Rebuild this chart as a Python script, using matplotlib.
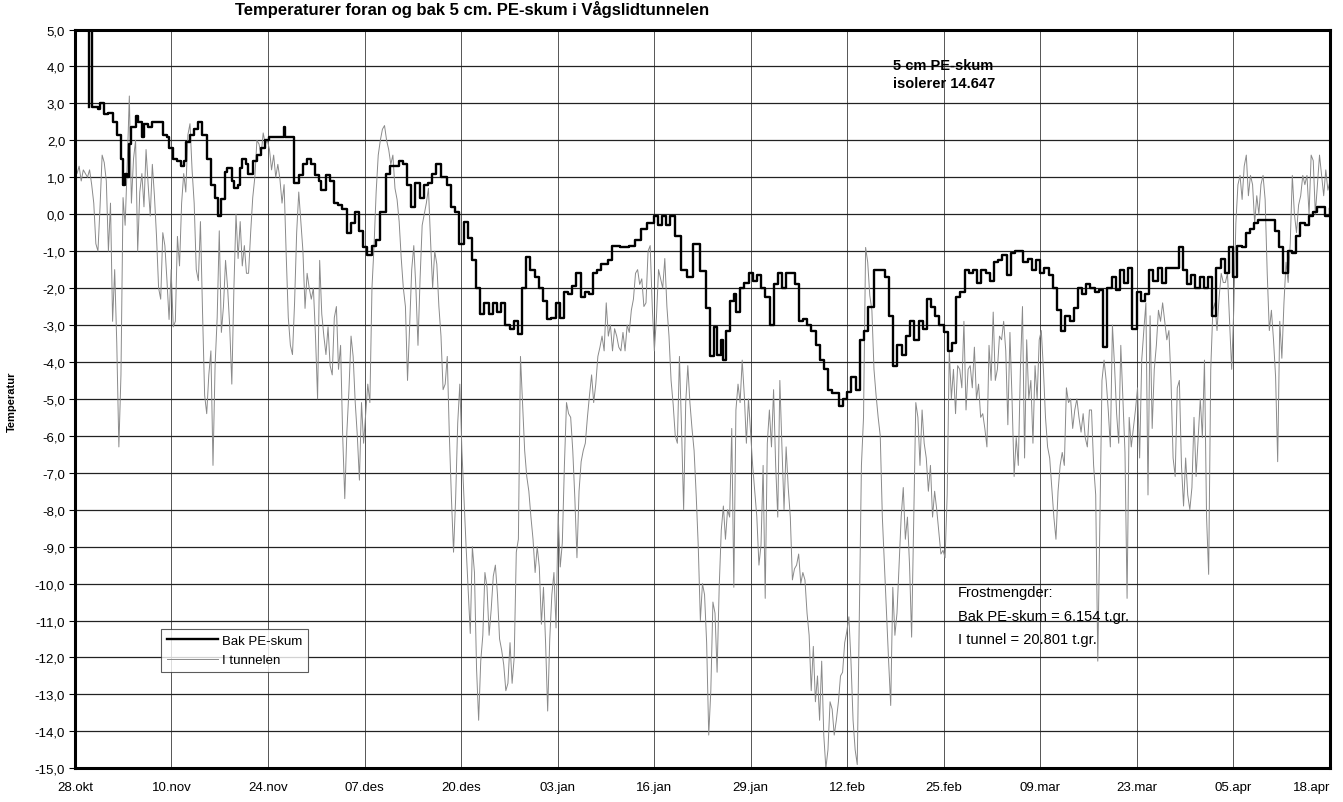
import numpy as np
import matplotlib.pyplot as plt
from matplotlib.ticker import FuncFormatter

# x in days from 28.okt; labels every 13.23 days (Excel category axis)
tick_labels = ["28.okt", "10.nov", "24.nov", "07.des", "20.des", "03.jan", "16.jan",
               "29.jan", "12.feb", "25.feb", "09.mar", "23.mar", "05.apr", "18.apr"]
season_days = 172

# "I tunnelen": regular readings across the whole season
i_tunnel = [
    1.2, 1.1, 1.3, 0.9, 1.2, 1.1, 1.0, 1.2, 0.8, 0.3,
    -0.8, -1.0, 0.2, 1.6, 1.4, 0.9, -1.0, 0.3, -2.9, -1.5,
    -3.5, -6.3, -4.35, 0.45, -0.3, 1.35, 3.2, 0.3, 1.5, 2.0,
    -1.0, 0.6, 1.1, 0.2, 1.75, 0.8, -0.05, 1.35, 0.5, -0.6,
    -2.0, -2.3, -0.5, -0.85, -1.8, -2.85, -1.5, -3.05, -2.9, -0.6,
    -1.4, 0.3, 1.1, 0.6, 2.15, 2.45, 1.2, 0.3, -1.5, -1.8,
    -0.2, -2.65, -4.9, -5.4, -4.35, -3.7, -6.8, -4.1, -2.8, -0.45,
    -3.2, -2.5, -1.25, -2.0, -3.05, -4.6, -2.0, 0.0, -1.2, -0.2,
    -1.4, -0.85, -1.6, -1.6, -0.5, 0.45, 1.0, 2.0, 1.9, 1.6,
    2.2, 1.9, 2.0, 1.75, 1.2, 1.6, 1.0, 1.35, 0.95, 0.3,
    0.8, -1.1, -2.8, -3.55, -3.8, -2.4, -0.5, 0.6, -0.2, -1.0,
    -2.55, -1.6, -2.0, -2.3, -2.0, -3.3, -5.0, -1.25, -2.7, -3.3,
    -3.8, -3.05, -4.1, -4.35, -2.8, -2.5, -4.2, -3.55, -6.0, -7.7,
    -5.9, -4.75, -3.3, -3.85, -5.1, -6.0, -7.2, -5.1, -6.2, -5.4,
    -4.6, -5.1, -2.0, -0.85, 0.6, 1.6, 2.0, 2.3, 2.4, 2.0,
    1.75, 1.35, 1.6, 0.7, 0.4, -0.2, -1.2, -2.0, -2.5, -4.5,
    -3.05, -1.5, -0.85, -2.0, -3.55, -1.75, -0.3, 0.0, 0.3, 0.7,
    -0.7, -2.0, -1.0, -1.35, -2.5, -3.3, -4.75, -4.6, -3.85, -6.0,
    -7.7, -9.15, -7.7, -5.65, -4.6, -6.4, -7.7, -9.0, -10.2, -11.35,
    -9.0, -9.7, -12.3, -13.7, -12.1, -11.4, -9.7, -10.1, -11.4, -10.7,
    -9.8, -9.5, -10.3, -11.5, -11.8, -12.2, -12.9, -12.7, -11.6, -12.7,
    -12.0, -9.15, -8.8, -3.85, -5.15, -6.4, -7.1, -7.5, -8.2, -8.8,
    -9.7, -9.0, -9.55, -11.1, -10.1, -11.6, -13.45, -11.5, -10.3, -9.7,
    -11.2, -8.1, -9.55, -8.9, -6.8, -5.1, -5.4, -5.5, -6.4, -7.7,
    -9.3, -7.5, -6.7, -6.4, -6.2, -5.5, -4.9, -4.35, -5.1, -4.6,
    -3.85, -3.6, -3.3, -3.7, -2.4, -3.3, -3.0, -3.7, -3.1, -3.3,
    -3.6, -3.7, -3.2, -3.7, -3.0, -3.2, -2.6, -2.3, -1.6, -1.5,
    -1.9, -1.75, -2.5, -2.4, -1.0, -0.85, -2.5, -3.7, -2.8, -1.5,
    -1.75, -2.0, -1.2, -2.5, -3.3, -4.5, -5.15, -6.0, -6.2, -3.85,
    -5.8, -8.0, -5.1, -4.1, -5.1, -5.8, -6.4, -7.6, -9.0, -11.0,
    -10.0, -10.3, -11.6, -14.1, -12.9, -10.5, -10.8, -12.4, -10.1, -8.55,
    -7.9, -8.8, -8.0, -8.2, -5.8, -10.1, -5.3, -4.6, -5.1, -3.95,
    -4.9, -6.2, -5.0, -5.9, -6.8, -7.5, -8.2, -9.5, -8.95, -6.8,
    -10.4, -6.2, -5.3, -6.3, -4.75, -6.8, -8.2, -4.5, -6.3, -8.0,
    -6.3, -7.4, -8.2, -9.9, -9.6, -9.5, -9.2, -10.0, -9.7, -9.9,
    -10.8, -11.4, -12.9, -11.7, -13.2, -12.5, -13.7, -12.1, -14.1, -15.0,
    -14.5, -13.2, -13.4, -14.1, -13.7, -13.2, -12.5, -12.4, -11.6, -11.3,
    -10.9, -12.1, -13.7, -14.5, -14.9, -10.8, -6.8, -5.5, -0.9, -1.3,
    -2.2, -2.6, -4.2, -4.9, -5.5, -6.0, -8.2, -9.5, -10.8, -12.1,
    -13.3, -10.1, -11.4, -10.8, -9.5, -8.2, -7.4, -8.8, -8.2, -9.5,
    -11.45, -8.2, -5.1, -5.5, -6.8, -5.3, -6.2, -6.6, -7.5, -6.8,
    -8.2, -7.5, -8.0, -8.6, -9.2, -9.1, -9.3, -7.6, -3.7, -5.0,
    -4.2, -5.4, -4.1, -4.2, -4.7, -2.9, -5.3, -4.2, -4.1, -4.7,
    -3.6, -5.0, -4.6, -5.5, -5.4, -5.8, -6.3, -3.55, -4.5, -2.65,
    -4.5, -4.2, -3.3, -3.4, -2.9, -3.7, -5.7, -3.2, -5.0, -7.1,
    -6.05, -6.8, -4.2, -2.5, -6.6, -3.4, -5.0, -4.5, -6.2, -4.1,
    -5.0, -3.4, -3.15, -4.2, -5.5, -6.3, -6.6, -7.4, -8.2, -8.8,
    -7.5, -6.8, -6.45, -6.8, -4.7, -5.1, -5.0, -5.8, -5.3, -5.0,
    -5.5, -5.9, -5.4, -6.05, -6.3, -5.3, -5.3, -6.8, -7.6, -12.1,
    -8.2, -4.5, -3.95, -4.5, -5.3, -6.3, -3.0, -4.1, -5.4, -6.2,
    -3.55, -5.0, -6.45, -10.4, -5.5, -6.3, -5.8, -5.3, -4.7, -6.6,
    -3.95, -3.15, -2.4, -7.6, -2.75, -5.8, -4.2, -3.55, -2.6, -2.9,
    -2.4, -2.9, -3.4, -3.15, -4.5, -6.6, -7.1, -4.7, -4.5, -6.8,
    -7.9, -6.6, -7.6, -8.0, -7.4, -5.5, -7.1, -6.05, -5.0, -6.05,
    -3.95, -8.2, -9.75, -4.2, -2.6, -2.4, -3.15, -2.25, -1.6, -1.85,
    -1.85, -1.6, -2.9, -4.2, -2.6, -0.25, 0.8, 1.05, 0.4, 1.3,
    1.6, 0.5, 1.05, 0.8, -0.25, 0.5, 0.0, 0.8, 1.05, 0.4,
    -1.6, -3.15, -2.6, -3.4, -4.4, -6.7, -2.9, -3.9, -2.4, -1.3,
    -1.85, -0.8, 1.05, 0.0, -0.5, 0.25, 0.5, 1.05, 0.8, 1.05,
    0.0, 1.6, 1.45, 0.0, 0.8, 1.6, 1.05, 0.5, 1.2, 0.65,
    0.9,
]

# "Bak PE-skum": (day, temperature)
bak_pe = [
    (1.90, 2.9), (1.95, 9.0), (2.30, 2.9), (2.58, 2.9), (3.15, 2.85), (3.44, 3.0),
    (4.01, 2.7), (4.58, 2.75), (4.87, 2.75), (5.15, 2.5), (5.73, 2.15), (6.30, 1.5),
    (6.59, 0.8), (6.87, 1.1), (7.16, 1.0), (7.45, 1.9), (7.73, 2.35), (8.30, 2.65),
    (8.59, 2.5), (9.16, 2.1), (9.45, 2.45), (10.02, 2.35), (10.59, 2.5), (11.17, 2.5),
    (11.74, 2.5), (12.03, 2.15), (12.60, 2.1), (12.89, 1.8), (13.46, 1.5), (14.03, 1.45),
    (14.60, 1.3), (14.89, 1.45), (15.18, 1.95), (15.75, 2.15), (16.32, 2.3), (16.89, 2.5),
    (17.47, 2.15), (18.04, 1.5), (18.61, 0.8), (19.19, 0.45), (19.64, -0.05), (20.04, 0.4),
    (20.62, 1.15), (20.90, 1.25), (21.48, 0.9), (21.76, 0.7), (22.34, 0.8), (22.62, 1.25),
    (22.91, 1.5), (23.48, 1.35), (23.77, 1.1), (24.34, 1.45), (24.91, 1.6), (25.49, 1.8),
    (26.06, 2.0), (26.63, 2.1), (28.46, 2.1), (28.64, 2.35), (28.81, 2.1), (29.78, 2.1),
    (30.07, 0.85), (30.64, 1.05), (31.21, 1.35), (31.78, 1.5), (32.36, 1.35), (32.93, 1.05),
    (33.50, 0.9), (33.79, 0.65), (34.36, 1.05), (34.93, 0.9), (35.51, 0.3), (36.08, 0.25),
    (36.65, 0.15), (37.23, -0.5), (37.80, -0.25), (38.37, 0.05), (38.94, -0.45), (39.52, -0.9),
    (40.09, -1.1), (40.66, -0.85), (41.23, -0.7), (41.81, 0.05), (42.67, 1.1), (43.24, 1.3),
    (43.81, 1.3), (44.38, 1.45), (44.96, 1.35), (45.53, 0.8), (46.10, 0.2), (46.67, 0.85),
    (47.25, 0.45), (47.82, 0.8), (48.39, 0.85), (48.96, 1.1), (49.54, 1.35), (50.11, 1.0),
    (50.97, 0.8), (51.54, 0.2), (52.12, 0.05), (52.69, -0.8), (53.26, -0.2), (53.83, -0.65),
    (54.41, -1.25), (54.98, -2.0), (55.55, -2.7), (56.12, -2.4), (56.70, -2.7), (57.27, -2.4),
    (57.84, -2.65), (58.42, -2.4), (58.99, -3.0), (59.56, -3.1), (60.13, -2.9), (60.71, -3.25),
    (61.28, -2.0), (61.85, -1.15), (62.42, -1.5), (63.00, -1.7), (63.57, -2.0), (64.14, -2.35),
    (64.72, -2.85), (65.29, -2.8), (65.86, -2.4), (66.43, -2.8), (67.01, -2.1), (67.58, -2.15),
    (68.15, -1.95), (68.72, -1.6), (69.30, -2.25), (69.87, -2.1), (70.44, -2.15), (71.01, -1.6),
    (71.59, -1.5), (72.16, -1.35), (73.02, -1.25), (73.59, -0.85), (74.74, -0.9), (75.88, -0.85),
    (76.74, -0.7), (77.60, -0.4), (78.46, -0.25), (79.32, -0.05), (79.89, -0.3), (80.46, -0.05),
    (81.03, -0.3), (81.61, -0.05), (82.18, -0.6), (83.04, -1.5), (83.90, -1.7), (84.76, -0.8),
    (85.62, -1.55), (86.48, -2.55), (87.06, -3.85), (87.63, -3.05), (88.00, -3.8), (88.58, -3.4),
    (88.87, -3.95), (89.16, -3.15), (89.73, -2.35), (90.31, -2.15), (90.59, -2.65), (91.17, -2.0),
    (91.74, -1.85), (92.32, -1.6), (92.89, -1.8), (93.47, -1.65), (94.04, -2.0), (94.62, -2.25),
    (95.19, -3.0), (95.77, -1.9), (96.34, -1.6), (96.92, -2.0), (97.49, -1.6), (98.07, -1.6),
    (98.64, -1.9), (99.22, -2.9), (99.79, -2.85), (100.37, -3.0), (100.94, -3.15), (101.52, -3.55),
    (102.09, -3.95), (102.67, -4.2), (103.24, -4.75), (103.82, -4.85), (104.68, -5.2), (105.26, -5.0),
    (105.83, -4.8), (106.41, -4.4), (106.98, -4.75), (107.56, -3.4), (108.13, -3.15), (108.71, -2.5),
    (109.57, -1.5), (110.43, -1.5), (111.01, -1.7), (111.58, -2.75), (112.16, -4.1), (112.73, -3.55),
    (113.31, -3.8), (113.88, -3.3), (114.46, -2.9), (115.03, -3.4), (115.61, -2.9), (116.18, -3.1),
    (116.76, -2.3), (117.33, -2.5), (117.91, -2.75), (118.48, -3.0), (119.06, -3.2), (119.63, -3.7),
    (120.21, -3.5), (120.78, -2.25), (121.36, -2.1), (121.93, -1.5), (122.51, -1.6), (123.08, -1.5),
    (123.66, -1.85), (124.23, -1.5), (124.81, -1.6), (125.38, -1.8), (125.96, -1.3), (126.53, -1.25),
    (127.11, -1.1), (127.68, -1.65), (128.26, -1.05), (128.83, -1.0), (129.41, -1.0), (129.98, -1.3),
    (130.56, -1.2), (131.13, -1.5), (131.71, -1.25), (132.28, -1.6), (132.86, -1.45), (133.43, -1.65),
    (134.01, -2.0), (134.58, -2.6), (135.16, -3.15), (135.73, -2.75), (136.31, -2.9), (136.88, -2.55),
    (137.46, -2.0), (138.03, -2.15), (138.61, -1.9), (139.18, -2.0), (139.76, -2.1), (140.33, -2.05),
    (140.91, -3.6), (141.48, -2.0), (142.06, -1.7), (142.63, -2.05), (143.21, -1.5), (143.78, -1.85),
    (144.36, -1.45), (144.93, -3.1), (145.51, -2.1), (146.08, -2.35), (146.66, -2.15), (147.23, -1.5),
    (147.81, -1.8), (148.38, -1.45), (148.96, -1.85), (149.53, -1.45), (150.68, -1.45), (151.26, -0.9),
    (151.83, -1.5), (152.41, -1.9), (152.98, -1.65), (153.56, -2.0), (154.13, -1.7), (154.71, -2.0),
    (155.28, -1.7), (155.86, -2.75), (156.43, -1.45), (157.01, -1.2), (157.58, -1.6), (158.16, -0.9),
    (158.73, -1.7), (159.31, -0.85), (159.88, -0.9), (160.46, -0.5), (161.03, -0.4), (161.61, -0.25),
    (162.18, -0.15), (163.91, -0.15), (164.48, -0.45), (165.06, -0.9), (165.63, -1.6), (166.21, -1.0),
    (166.78, -1.05), (167.36, -0.6), (167.93, -0.25), (168.51, -0.3), (169.08, -0.05), (169.66, 0.05),
    (170.23, 0.2), (170.81, 0.2), (171.38, -0.05), (171.96, 0.15),
]

bak_day = [d for d, _ in bak_pe]
bak_temp = [t for _, t in bak_pe]
tunnel_day = np.linspace(0, season_days, len(i_tunnel))

plt.rcParams["font.family"] = ["Liberation Sans", "DejaVu Sans"]

fig = plt.figure(figsize=(13.43, 8.03), dpi=100)
ax = fig.add_axes([0.0558, 0.042, 0.9345, 0.92])

ax.plot(tunnel_day, i_tunnel, color="#8a8a8a", lw=0.7, label="I tunnelen", zorder=2)
ax.plot(bak_day, bak_temp, color="black", lw=1.7, drawstyle="steps-post",
        label="Bak PE-skum", zorder=3)

ax.set_xlim(0, season_days)
ax.set_ylim(-15, 5)
ax.set_yticks(np.arange(-15, 6, 1))
ax.yaxis.set_major_formatter(FuncFormatter(lambda v, p: f"{v:.1f}".replace(".", ",")))
ax.set_xticks(np.linspace(0, season_days, len(tick_labels)))
ax.set_xticklabels(tick_labels, fontsize=9.5)
ax.get_xticklabels()[-1].set_horizontalalignment("right")
ax.get_xticklabels()[-1].set_x(season_days + 1.0)
ax.tick_params(axis="x", length=0, pad=9)
ax.tick_params(axis="y", length=4, labelsize=9.5, pad=3)

ax.grid(axis="y", color="#222222", lw=0.9)
ax.grid(axis="x", color="#555555", lw=0.7)
ax.set_axisbelow(True)
for s in ax.spines.values():
    s.set_linewidth(2.2)

leg = ax.legend(handles=ax.lines[::-1], loc="lower left", bbox_to_anchor=(0.0685, 0.13),
                borderaxespad=0, fontsize=9.5, frameon=True, fancybox=False,
                handlelength=3.9, handletextpad=0.3, borderpad=0.45, labelspacing=0.55)
leg.get_frame().set_edgecolor("#333333")
leg.get_frame().set_linewidth(0.8)

ax.text(0.652, 0.952, "5 cm PE-skum", transform=ax.transAxes, fontsize=10.5,
        weight="bold", va="center")
ax.text(0.652, 0.928, "isolerer 14.647", transform=ax.transAxes, fontsize=10.5,
        weight="bold", va="center")

ax.text(0.7036, 0.238, "Frostmengder:", transform=ax.transAxes, fontsize=10.5, va="center")
ax.text(0.7036, 0.2055, "Bak PE-skum = 6.154 t.gr.", transform=ax.transAxes, fontsize=10.5, va="center")
ax.text(0.7036, 0.1745, "I tunnel = 20.801 t.gr.", transform=ax.transAxes, fontsize=10.5, va="center")

fig.text(0.009, 0.5, "Temperatur", rotation=90, fontsize=8, weight="bold", va="center", ha="center")
fig.text(0.175, 0.988, "Temperaturer foran og bak 5 cm. PE-skum i Vågslidtunnelen",
         fontsize=12, weight="bold", va="center", ha="left")

fig.savefig("out.png", dpi=100)
